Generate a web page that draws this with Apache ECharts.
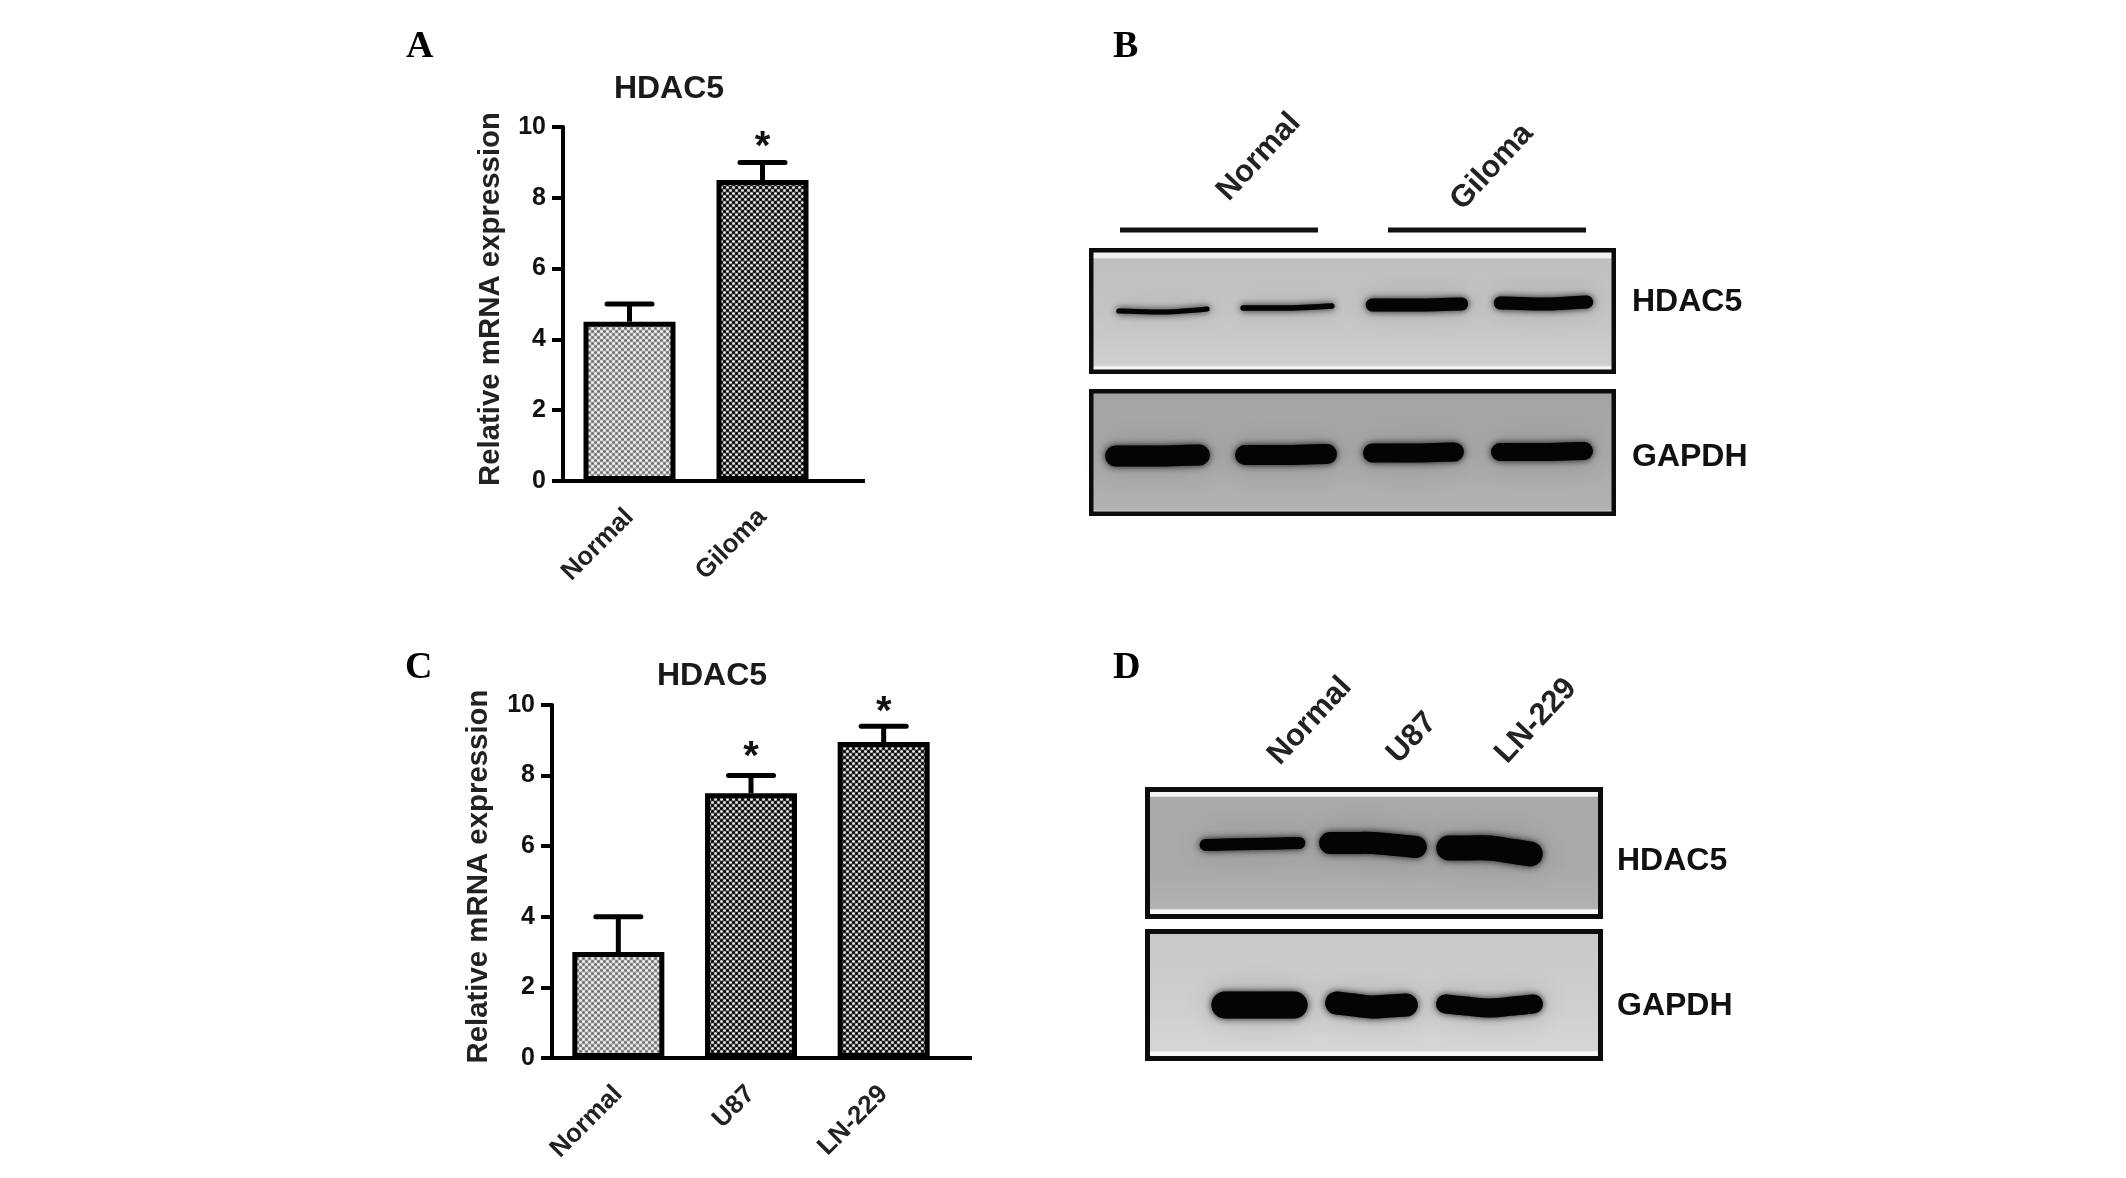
<!DOCTYPE html>
<html>
<head>
<meta charset="utf-8">
<style>html,body{margin:0;padding:0;background:#fff}#chart{width:2126px;height:1178px}</style>
<script src="https://cdn.jsdelivr.net/npm/echarts@6/dist/echarts.min.js"></script>
</head>
<body>
<div id="chart"></div>
<script>
// ---- Data ----
const catsA = ['Normal', 'Giloma'];
const meanA = [4.5, 8.5];
const upperA = [5, 9];
const starA = [null, 9.66];   // height of the "*" mark on the y scale

const catsC = ['Normal', 'U87', 'LN-229'];
const meanC = [3, 7.5, 8.95];
const upperC = [4, 8, 9.4];
const starC = [null, 8.75, 10.03];

const yTicks = [0, 2, 4, 6, 8, 10];
const yName = 'Relative mRNA expression';
const titleText = 'HDAC5';

// Western blot panels (illustration): [x0, x1, yLeft, yMid, yRight, thickness]
const bandsB1 = [[1114,1212,311,312,309,7],[1238,1337,308,308,306,7.5],[1363,1471,305,305,304,15],[1491,1596,303,304,302,15]];
const bandsB2 = [[1102,1213,456,456,455,23],[1232,1340,455,455,454,22],[1360,1467,453,453,452,21],[1488,1596,452,452,451,20]];
const bandsD1 = [[1197,1308,845,844,843,14],[1316,1430,843,843,847,24],[1433,1546,848,848,854,27]];
const bandsD2 = [[1208,1311,1005,1005,1005,29],[1322,1421,1003,1007,1005,25],[1433,1546,1004,1008,1004,21]];

const FONT = '"Liberation Sans", Arial, sans-serif';
const SERIF = '"Liberation Serif", "Times New Roman", serif';

function tile(bg, light, dark) {
  const c = document.createElement('canvas');
  c.width = c.height = 6;
  const g = c.getContext('2d');
  g.fillStyle = bg; g.fillRect(0, 0, 6, 6);
  const dot = (x, y, col) => { g.fillStyle = col; g.beginPath(); g.arc(x, y, 1.35, 0, 7); g.fill(); };
  dot(1.5, 1.5, light); dot(4.5, 4.5, light);
  dot(4.5, 1.5, dark); dot(1.5, 4.5, dark);
  return { image: c, repeat: 'repeat' };
}
const lightFill = tile('#b4b4b4', '#f6f6f6', '#6a6a6a');
const darkFill = tile('#4a4a4a', '#f0f0f0', '#000000');

function errItem(capW) {
  return function (params, api) {
    const i = api.value(0);
    const top = api.coord([i, api.value(1)]);
    const base = api.coord([i, api.value(2)]);
    const kids = [
      { type: 'line', shape: { x1: top[0], y1: top[1], x2: base[0], y2: base[1] }, style: { stroke: '#000', lineWidth: 5 } },
      { type: 'line', shape: { x1: top[0] - capW / 2, y1: top[1], x2: top[0] + capW / 2, y2: top[1] }, style: { stroke: '#000', lineWidth: 5, lineCap: 'round' } }
    ];
    const s = api.value(3);
    if (isFinite(s)) {
      const p = api.coord([i, s]);
      kids.push({ type: 'text', x: p[0], y: p[1] - 11, style: { text: '*', font: 'bold 40px ' + FONT, fill: '#111', align: 'center', verticalAlign: 'top' } });
    }
    return { type: 'group', children: kids };
  };
}

function xAxisOf(cats, gridIndex, ext) {
  return {
    type: 'category', gridIndex, data: cats,
    axisLine: { lineStyle: { color: '#000', width: 4 }, symbol: ['none', 'rect'], symbolSize: [4, ext * 2] },
    axisTick: { alignWithLabel: true, length: 13, lineStyle: { color: '#000', width: 4 } },
    axisLabel: { rotate: 45, interval: 0, margin: 32, color: '#222', fontFamily: FONT, fontWeight: 'bold', fontSize: 26 }
  };
}
function yAxisOf(gridIndex, gap) {
  return {
    type: 'value', gridIndex, min: yTicks[0], max: yTicks[yTicks.length - 1], interval: 2,
    name: yName, nameLocation: 'middle', nameGap: gap, nameRotate: 90,
    nameTextStyle: { color: '#222', fontFamily: FONT, fontWeight: 'bold', fontSize: 29.4, padding: [0, 0, 0, 10] },
    splitLine: { show: false },
    axisLine: { show: true, lineStyle: { color: '#000', width: 4 } },
    axisTick: { show: true, length: 11, lineStyle: { color: '#000', width: 4 } },
    axisLabel: { margin: 17, color: '#111', fontFamily: FONT, fontWeight: 'bold', fontSize: 25 }
  };
}
function barSeries(vals, gridIdx, w, lastFill) {
  return {
    type: 'bar', xAxisIndex: gridIdx, yAxisIndex: gridIdx, barWidth: w, z: 3,
    data: vals.map((v, i) => ({ value: v, itemStyle: { color: i === 0 ? lightFill : lastFill, borderColor: '#000', borderWidth: 5 } }))
  };
}
function errSeries(upper, mean, star, gridIdx, capW) {
  return {
    type: 'custom', xAxisIndex: gridIdx, yAxisIndex: gridIdx, z: 2, clip: false, silent: true,
    renderItem: errItem(capW),
    encode: { x: 0, y: 1 },
    data: upper.map((u, i) => [i, u, mean[i], star[i] === null ? NaN : star[i]])
  };
}

// ---- Blot illustration helpers ----
const grad = (stops) => new echarts.graphic.LinearGradient(0, 0, 0, 1, stops.map((c) => ({ offset: c[0], color: c[1] })));
function box(x0, y0, x1, y1, stops, bw) {
  return { type: 'rect', z: 1, shape: { x: x0 + bw / 2, y: y0 + bw / 2, width: x1 - x0 - bw, height: y1 - y0 - bw },
    style: { fill: grad(stops), stroke: '#0c0c0c', lineWidth: bw } };
}
function band(b) {
  const [x0, x1, yl, ym, yr, h] = b;
  const mid = (x0 + x1) / 2, ins = h * 0.55 + 1;
  const pts = [[x0 + ins, yl], [x0 + ins + (mid - x0) * 0.35, (yl + ym) / 2], [mid, ym], [x1 - ins - (x1 - mid) * 0.35, (yr + ym) / 2], [x1 - ins, yr]];
  const lw = Math.max(h - 2, 3);
  return { type: 'group', children: [
    { type: 'polyline', z: 2, shape: { points: pts, smooth: 0.4 }, style: { fill: 'none', stroke: 'rgba(0,0,0,0.3)', lineWidth: lw, lineCap: 'round', shadowBlur: 30, shadowColor: 'rgba(0,0,0,0.55)' } },
    { type: 'polyline', z: 3, shape: { points: pts, smooth: 0.4 }, style: { fill: 'none', stroke: '#040404', lineWidth: lw, lineCap: 'round', shadowBlur: 7, shadowColor: 'rgba(0,0,0,0.9)' } }
  ] };
}
function line(x0, x1, y, w) {
  return { type: 'line', z: 2, shape: { x1: x0, y1: y, x2: x1, y2: y }, style: { stroke: '#111', lineWidth: w } };
}
function label(t, x, y, size, opts) {
  opts = opts || {};
  return { type: 'text', z: 5, x, y, rotation: opts.rot || 0,
    style: { text: t, font: (opts.weight || 'bold') + ' ' + size + 'px ' + (opts.fam || FONT), fill: opts.fill || '#111',
      align: opts.align || 'left', verticalAlign: 'middle' } };
}

const rotated = { rot: .82, align: 'center', fill: '#222' };
const blot = [
  // panel letters
  label('A', 406, 47, 38, { fam: SERIF, fill: '#000' }),
  label('B', 1113, 47, 38, { fam: SERIF, fill: '#000' }),
  label('C', 405, 668, 38, { fam: SERIF, fill: '#000' }),
  label('D', 1113, 668, 38, { fam: SERIF, fill: '#000' }),
  // panel B
  label('Normal', 1259, 157, 31, rotated),
  label('Giloma', 1492, 167, 31, rotated),
  line(1120, 1318, 230, 5), line(1388, 1586, 230, 5),
  box(1089, 248, 1616, 374, [[0, '#f2f2f2'], [.075, '#f2f2f2'], [.09, '#c0c0c0'], [.5, '#c4c4c4'], [.93, '#cfcfcf'], [.945, '#f4f4f4'], [1, '#f4f4f4']], 4.5),
  box(1089, 389, 1616, 516, [[0, '#a4a4a4'], [.5, '#a8a8a8'], [.95, '#b2b2b2'], [.965, '#d8d8d8'], [1, '#d8d8d8']], 4.5),
  ...bandsB1.map(band), ...bandsB2.map(band),
  label('HDAC5', 1632, 302, 32),
  label('GAPDH', 1632, 457, 32),
  // panel D
  label('Normal', 1310, 721, 31, rotated),
  label('U87', 1412, 738, 31, rotated),
  label('LN-229', 1536, 721, 31, rotated),
  box(1145, 787, 1603, 919, [[0, '#f4f4f4'], [.068, '#f4f4f4'], [.08, '#a9a9a9'], [.6, '#a9a9a9'], [.92, '#b2b2b2'], [.932, '#f8f8f8'], [1, '#f8f8f8']], 5),
  box(1145, 929, 1603, 1061, [[0, '#c8c8c8'], [.5, '#cdcdcd'], [.92, '#d6d6d6'], [.932, '#f8f8f8'], [1, '#f8f8f8']], 5),
  ...bandsD1.map(band), ...bandsD2.map(band),
  label('HDAC5', 1617, 861, 32),
  label('GAPDH', 1617, 1006, 32)
];

const chart = echarts.init(document.getElementById('chart'), null, { renderer: 'canvas' });
chart.setOption({
  animation: false,
  backgroundColor: '#fff',
  title: [
    { text: titleText, left: 664, top: 68, textAlign: 'center', textStyle: { fontFamily: FONT, fontWeight: 'bold', fontSize: 32, color: '#1a1a1a' } },
    { text: titleText, left: 707, top: 655, textAlign: 'center', textStyle: { fontFamily: FONT, fontWeight: 'bold', fontSize: 32, color: '#1a1a1a' } }
  ],
  grid: [
    { left: 563, top: 127, width: 266, height: 354 },
    { left: 552, top: 705, width: 398, height: 353 }
  ],
  xAxis: [xAxisOf(catsA, 0, 36), xAxisOf(catsC, 1, 22)],
  yAxis: [yAxisOf(0, 58), yAxisOf(1, 59)],
  series: [
    errSeries(upperA, meanA, starA, 0, 45),
    barSeries(meanA, 0, 92, darkFill),
    errSeries(upperC, meanC, starC, 1, 45),
    barSeries(meanC, 1, 92, darkFill)
  ],
  graphic: { elements: blot }
});
</script>
</body>
</html>
